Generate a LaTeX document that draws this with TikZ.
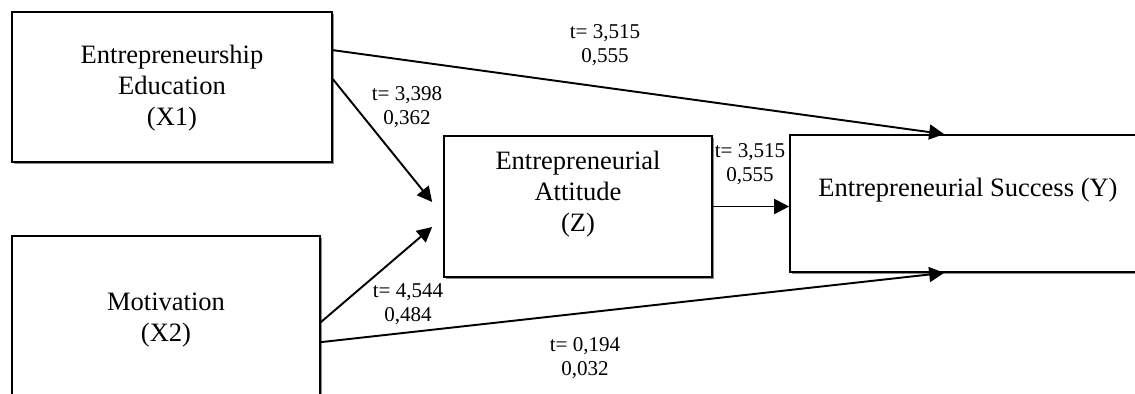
\documentclass[tikz,border=0pt]{standalone}
\usepackage{fontspec}
\setmainfont{Liberation Serif}
\usetikzlibrary{arrows.meta,calc,shadows}

\tikzset{
  varbox/.style={draw,line width=1pt,fill=white,inner sep=0pt,
    drop shadow={shadow xshift=.035cm,shadow yshift=-.035cm,fill=black!45,opacity=1}},
  vartext/.style={align=center,inner sep=0pt,font=\fontsize{15.1}{17.6}\selectfont},
  coef/.style={align=center,inner sep=0pt,font=\fontsize{12}{13.7}\selectfont},
  effect/.style={-{Triangle[length=.3cm,width=.3cm]},line width=1.1pt}
}

\begin{document}
\begin{tikzpicture}[x=0.02cm,y=-0.02cm]
\useasboundingbox (0,0) rectangle (1135,394);
\clip (0,0) rectangle (1135,394);
% variables
\node[varbox,minimum width=6.4cm,minimum height=3cm] (X1) at (172,87) {};
\node[varbox,minimum width=6.16cm,minimum height=3.36cm] (X2) at (166,320) {};
\node[varbox,minimum width=5.36cm,minimum height=2.82cm] (Z) at (578,206.5) {};
\node[varbox,minimum width=7.12cm,minimum height=2.74cm] (Y) at (968,203.5) {};
\node[vartext] (X1txt) at (172,88) {Entrepreneurship\\Education\\(X1)};
\node[vartext] (X2txt) at (166,320) {Motivation\\(X2)};
\node[vartext] (Ztxt) at (578,194) {Entrepreneurial\\Attitude\\(Z)};
\node[vartext] (Ytxt) at (968,190) {Entrepreneurial Success (Y)};
% paths
\draw[effect] ($(X1.north east)+(0,39)$) -- ($(Y.north west)+(155,0)$);
\draw[effect] ($(X1.north east)+(0,68)$) -- ($(Z.west)+(-11,-4.5)$);
\draw[effect] ($(X2.north east)+(0,87)$) -- ($(Z.west)+(-11,20.5)$);
\draw[effect] ($(X2.north east)+(0,107)$) -- ($(Y.south west)+(155,0)$);
\draw[effect] (Z.east) -- (Z.east -| Y.west);
% coefficients
\node[coef] (c1) at (605,45) {t= 3,515\\0,555};
\node[coef] (c2) at (407,107) {t= 3,398\\0,362};
\node[coef] (c3) at (750,164) {t= 3,515\\0,555};
\node[coef] (c4) at (408,304) {t= 4,544\\0,484};
\node[coef] (c5) at (585,358) {t= 0,194\\0,032};
\end{tikzpicture}
\end{document}
